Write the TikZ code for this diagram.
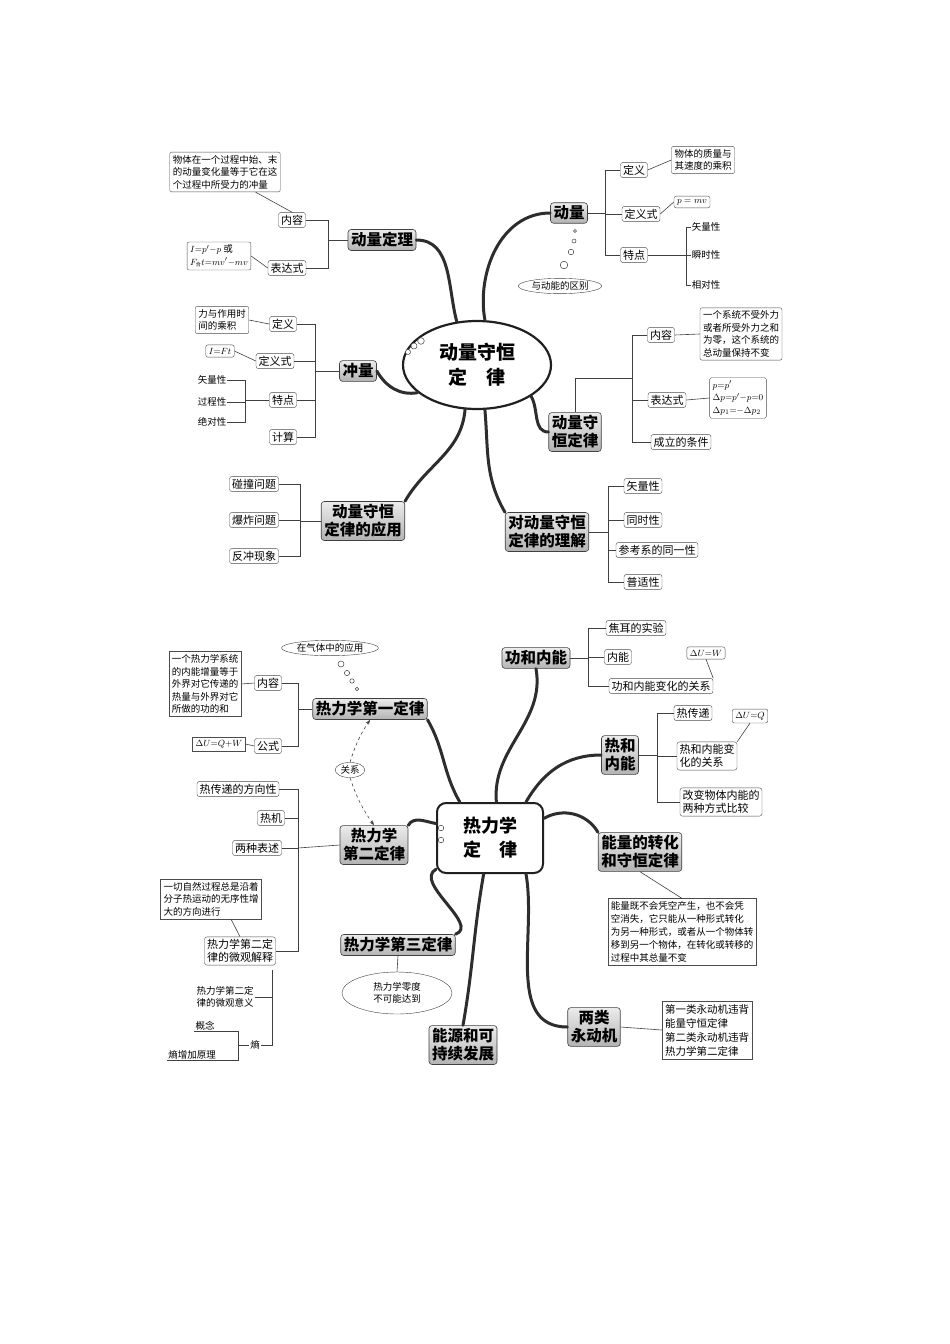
\documentclass[tikz,border=0pt]{standalone}
\usepackage{fontspec}
\setmainfont{Noto Sans CJK SC}
\usetikzlibrary{shapes.geometric,arrows.meta}
\begin{document}
\begin{tikzpicture}[x=1pt,y=-1pt,
 mainbox/.style={draw=gray!50!black, rounded corners=3, top color=gray!15, bottom color=gray!60, font=\bfseries\fontsize{15.5}{18}\selectfont, inner sep=3pt, align=center, line width=0.6pt},
 leaf/.style={draw=gray!60!black, rounded corners=2.5, fill=white, font=\fontsize{11}{13}\selectfont, inner sep=2.5pt, align=left},
 note/.style={draw=gray!60!black, rounded corners=2, fill=white, font=\fontsize{9.5}{12.5}\selectfont, align=left, inner sep=3pt},
 plain/.style={font=\fontsize{9.5}{12}\selectfont, inner sep=1pt, align=left},
 conn/.style={gray!50!black, line width=0.6pt},
 branch/.style={line width=3pt, gray!35!black, line cap=round},
 bub/.style={draw=gray!50!black, fill=white, line width=0.5pt},
 thought/.style={ellipse, draw=gray!50!black, fill=white, font=\fontsize{9.5}{12}\selectfont, inner sep=1pt, align=center}]
\useasboundingbox (0,0) rectangle (950,1344);
% ================= TOP =================
\node[ellipse, draw=gray!25!black, line width=2.2pt, minimum width=148, minimum height=88, font=\bfseries\fontsize{19}{25}\selectfont, align=center] (C1) at (477,365) {动量守恒\\定\quad 律};
\foreach \p/\r in {{(408,352)}/2.5,{(414,346)}/3,{(421,341)}/3.3} \draw[bub] \p circle (\r);
\node[mainbox] (A) at (382,240) {动量定理};
\node[leaf] (A1) at (292,220) {内容};
\node[leaf] (A2) at (287,268) {表达式};
\node[note] (An1) at (225,172) {物体在一个过程中始、末\\的动量变化量等于它在这\\个过程中所受力的冲量};
\node[note] (An2) at (219,256) {$I{=}p'{-}p$ 或\\$F_{\mbox{\tiny 合}}t{=}mv'{-}mv$};
\coordinate (Ab) at (328,240);
\draw[conn] (A1.east) -| (Ab) -- (A.west); \draw[conn] (A2.east) -| (Ab);
\draw[conn] (An1.south east) ++(-25,0) -- (A1.north);
\draw[conn] (An2.east) -- (A2.west);

\node[mainbox] (B) at (358,371) {冲量};
\node[leaf] (B1) at (283,324) {定义};
\node[leaf] (B2) at (275,361) {定义式};
\node[leaf] (B3) at (283,400) {特点};
\node[leaf] (B4) at (283,437) {计算};
\node[note] (Bn1) at (222,320) {力与作用时\\间的乘积};
\node[note] (Bn2) at (220,351) {$I{=}Ft$};
\node[plain] (Bl1) at (212,380) {矢量性};
\node[plain] (Bl2) at (212,402) {过程性};
\node[plain] (Bl3) at (212,422) {绝对性};
\coordinate (Bb) at (315,371);
\foreach \n in {B1,B2,B3,B4} \draw[conn] (\n.east) -| (Bb);
\draw[conn] (Bb) -- (B.west);
\coordinate (Bb3) at (245,400);
\foreach \n in {Bl1,Bl2,Bl3} \draw[conn] (\n.east) -| (Bb3);
\draw[conn] (Bb3) -- (B3.west);
\draw[conn] (Bn1.east) -- (B1.west); \draw[conn] (Bn2.east) -- (B2.west);

\node[mainbox] (D) at (569,213) {动量};
\node[leaf] (D1) at (634,170) {定义};
\node[leaf] (D2) at (641,214) {定义式};
\node[leaf] (D3) at (634,255) {特点};
\node[note] (Dn1) at (703,160) {物体的质量与\\其速度的乘积};
\node[note] (Dn2) at (692,202) {$p=mv$};
\node[plain] (Dl1) at (706,227) {矢量性};
\node[plain] (Dl2) at (706,255) {瞬时性};
\node[plain] (Dl3) at (706,285) {相对性};
\coordinate (Db) at (605,213);
\foreach \n in {D1,D2,D3} \draw[conn] (\n.west) -| (Db);
\draw[conn] (Db) -- (D.east);
\coordinate (Db3) at (686,255);
\foreach \n in {Dl1,Dl2,Dl3} \draw[conn] (\n.west) -| (Db3);
\draw[conn] (Db3) -- (D3.east);
\draw[conn] (Dn1.west) -- (D1.east); \draw[conn] (Dn2.west) -- (D2.east);
\node[thought] (Dt) at (560,286) {与动能的区别};
\foreach \p/\r in {{(575,231)}/1.5,{(574,241)}/2,{(571,252)}/2.8,{(564,265)}/3.8} \draw[bub] \p circle (\r);

\node[mainbox] (E) at (575,432) {动量守\\恒定律};
\node[leaf] (E1) at (661,335) {内容};
\node[leaf] (E2) at (667,400) {表达式};
\node[leaf] (E3) at (681,442) {成立的条件};
\node[note] (En1) at (741,334) {一个系统不受外力\\或者所受外力之和\\为零，这个系统的\\总动量保持不变};
\node[note] (En2) at (738,398) {$p{=}p'$\\$\Delta p{=}p'{-}p{=}0$\\$\Delta p_1{=}{-}\Delta p_2$};
\coordinate (Eb) at (632,378);
\foreach \n in {E1,E2,E3} \draw[conn] (\n.west) -| (Eb);
\draw[conn] (Eb) -| (E.north);
\draw[conn] (En1.west) -- (E1.east); \draw[conn] (En2.west) -- (E2.east);

\node[mainbox] (F) at (363,521) {动量守恒\\定律的应用};
\node[leaf] (F1) at (254,484) {碰撞问题};
\node[leaf] (F2) at (254,520) {爆炸问题};
\node[leaf] (F3) at (254,556) {反冲现象};
\coordinate (Fb) at (300,521);
\foreach \n in {F1,F2,F3} \draw[conn] (\n.east) -| (Fb);
\draw[conn] (Fb) -- (F.west);

\node[mainbox] (G) at (547,532) {对动量守恒\\定律的理解};
\node[leaf] (G1) at (643,486) {矢量性};
\node[leaf] (G2) at (643,520) {同时性};
\node[leaf] (G3) at (657,550) {参考系的同一性};
\node[leaf] (G4) at (643,582) {普适性};
\coordinate (Gb) at (608,532);
\foreach \n in {G1,G2,G3,G4} \draw[conn] (\n.west) -| (Gb);
\draw[conn] (Gb) -- (G.east);

\draw[branch] (C1.115) to[out=105,in=0] (A.east);
\draw[branch] (C1.205) to[out=190,in=-60] (B.east);
\draw[branch] (C1.80) to[out=100,in=180] (D.west);
\draw[branch] (C1.-30) to[out=-60,in=180] (E.west);
\draw[branch] (C1.-105) to[out=-95,in=60] (F.north east);
\draw[branch] (C1.-80) to[out=-85,in=120] (G.north west);

% ================= BOTTOM =================
\node[draw=gray!25!black, line width=2pt, rounded corners=9, minimum width=106, minimum height=70, font=\bfseries\fontsize{18}{24}\selectfont, align=center, fill=white] (C2) at (490,838) {热力学\\定\quad 律};
\draw[bub] (441,828) circle (2.8); \draw[bub] (441,840) circle (2.8);

\node[mainbox] (H) at (370,709) {热力学第一定律};
\node[leaf] (H1) at (268,683) {内容};
\node[leaf] (H2) at (268,746) {公式};
\node[note,rounded corners=0] (Hn1) at (205,684) {一个热力学系统\\的内能增量等于\\外界对它传递的\\热量与外界对它\\所做的功的和};
\node[note,rounded corners=0] (Hn2) at (219,744) {$\Delta U{=}Q{+}W$};
\coordinate (Hb) at (298,709);
\foreach \n in {H1,H2} \draw[conn] (\n.east) -| (Hb);
\draw[conn] (Hb) -- (H.west);
\draw[conn] (Hn1.east) -- (H1.west); \draw[conn] (Hn2.east) -- (H2.west);
\node[thought] (Ht) at (330,648) {在气体中的应用};
\foreach \p/\r in {{(341,664)}/3,{(347,673)}/2.6,{(352,681)}/2.2,{(357,689)}/1.8} \draw[bub] \p circle (\r);

\node[mainbox] (K) at (374,845) {热力学\\第二定律};
\node[leaf] (K1) at (238,789) {热传递的方向性};
\node[leaf] (K2) at (271,818) {热机};
\node[leaf] (K3) at (257,848) {两种表述};
\node[leaf] (K4) at (240,951) {热力学第二定\\律的微观解释};
\node[note,rounded corners=0] (Kn) at (211,899) {一切自然过程总是沿着\\分子热运动的无序性增\\大的方向进行};
\coordinate (Kb) at (298,848);
\foreach \n in {K1,K2,K3,K4} \draw[conn] (\n.east) -| (Kb);
\draw[conn] (Kb) -- (K.west);
\draw[conn] (Kn.south) ++(20,0) -- (K4.north);
\node[plain] (K5) at (225,997) {热力学第二定\\律的微观意义};
\node[plain] (S) at (255,1045) {熵};
\node[plain] (S1) at (205,1026) {概念};
\node[plain] (S2) at (192,1055) {熵增加原理};
\draw[conn] (272,970) -- (272,1045) -- (S.east);
\draw[conn] (K5.east) -- (272,997);
\coordinate (Sb) at (238,1045);
\draw[conn] (S1.south west) -- (S1.south east) -| (Sb);
\draw[conn] (S2.south west) -- (S2.south east) -| (Sb);
\draw[conn] (Sb) -- (S.west);

\node[thought] (Kt) at (350,770) {关系};
\draw[conn,dashed,-{Stealth[length=5pt]}] (Kt.north) to[bend left=8] (H.south);
\draw[conn,dashed,-{Stealth[length=5pt]}] (Kt.south) to[bend right=8] (K.north);

\node[mainbox] (L) at (398,945) {热力学第三定律};
\node[thought, minimum width=110, minimum height=42] (Lt) at (397,993) {热力学零度\\不可能达到};
\draw[conn] (L.south) -- (Lt.north);

\node[mainbox] (M) at (463,1045) {能源和可\\持续发展};

\node[mainbox] (N) at (594,1027) {两类\\永动机};
\node[note,rounded corners=0,font=\fontsize{10.5}{14}\selectfont] (Nn) at (707,1030) {第一类永动机违背\\能量守恒定律\\第二类永动机违背\\热力学第二定律};
\draw[conn] (N.east) -- (Nn.west);

\node[mainbox] (P) at (640,852) {能量的转化\\和守恒定律};
\node[note,rounded corners=0,font=\fontsize{9.5}{13}\selectfont] (Pn) at (682,932) {能量既不会凭空产生，也不会凭\\空消失，它只能从一种形式转化\\为另一种形式，或者从一个物体转\\移到另一个物体，在转化或转移的\\过程中其总量不变};
\draw[conn] (P.south) -- (Pn.north);

\node[mainbox] (Q) at (620,755) {热和\\内能};
\node[leaf] (Q1) at (693,713) {热传递};
\node[leaf] (Q2) at (707,756) {热和内能变\\化的关系};
\node[leaf] (Q3) at (721,802) {改变物体内能的\\两种方式比较};
\node[note] (Qn) at (750,716) {$\Delta U{=}Q$};
\coordinate (Qb) at (657,755);
\foreach \n in {Q1,Q2,Q3} \draw[conn] (\n.west) -| (Qb);
\draw[conn] (Qb) -- (Q.east);
\draw[conn] (Qn.south) -- (Q2.north east);

\node[mainbox] (R) at (536,658) {功和内能};
\node[leaf] (R1) at (636,628) {焦耳的实验};
\node[leaf] (R2) at (618,657) {内能};
\node[leaf] (R3) at (661,686) {功和内能变化的关系};
\node[note] (Rn) at (706,653) {$\Delta U{=}W$};
\coordinate (Rb) at (588,658);
\foreach \n in {R1,R2,R3} \draw[conn] (\n.west) -| (Rb);
\draw[conn] (Rb) -- (R.east);
\draw[conn] (Rn.south) -- (R3.north east);

\draw[branch] (C2.130) to[out=120,in=-60] (H.south east);
\draw[branch] (C2.165) to[out=170,in=60] (K.north east);
\draw[branch] (C2.80) to[out=95,in=-80] (R.south);
\draw[branch] (C2.45) to[out=60,in=180] (Q.west);
\draw[branch] (C2.20) to[out=30,in=120] (P.north west);
\draw[branch] (C2.-45) to[out=-80,in=180] (N.west);
\draw[branch] (C2.-100) to[out=-100,in=80] (M.north);
\draw[branch] (C2.-150) to[out=-150,in=20] (L.north east);
\end{tikzpicture}
\end{document}
